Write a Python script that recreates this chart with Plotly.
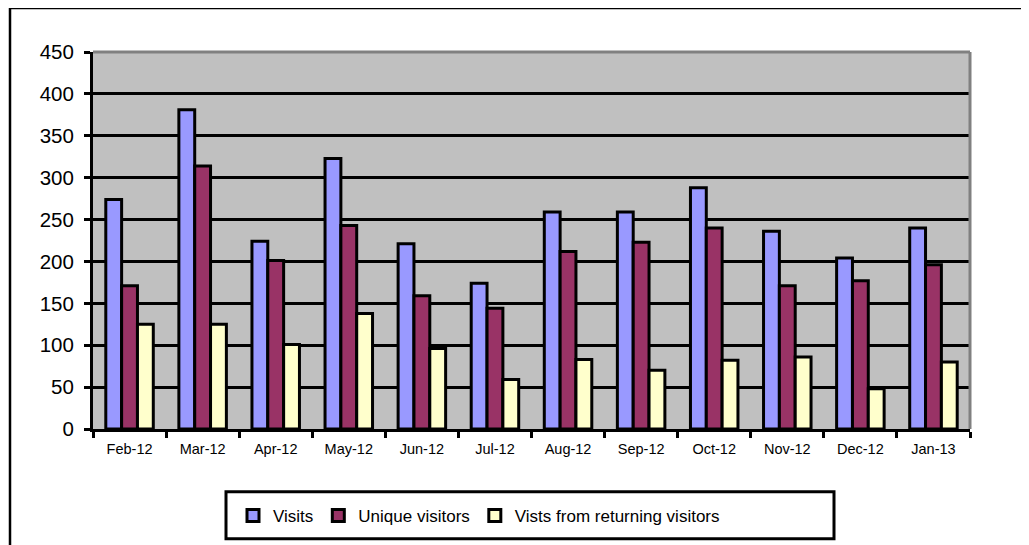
import plotly.graph_objects as go

months = ["Feb-12", "Mar-12", "Apr-12", "May-12", "Jun-12", "Jul-12",
          "Aug-12", "Sep-12", "Oct-12", "Nov-12", "Dec-12", "Jan-13"]
visits = [274, 381, 224, 323, 221, 174, 259, 259, 288, 236, 204, 240]
unique_visitors = [171, 314, 201, 243, 159, 144, 212, 223, 240, 171, 177, 196]
returning_visits = [125, 125, 101, 138, 96, 59, 83, 70, 82, 86, 48, 80]

series_names = ["Visits", "Unique visitors", "Vists from returning visitors"]
colors = ["#9999FF", "#993366", "#FFFFCC"]

# the page body has an 8px margin, so the figure is placed at (8, 8)
OFF = 8
W, H = 1029 - OFF, 545 - OFF
# plot area in window pixels
L, R, T, B = 93, 970, 52, 430


def px(x):
    return (x - L) / (R - L)


def py(y):
    return (B - y) / (B - T)


fig = go.Figure()
for name, vals, col in zip(series_names, [visits, unique_visitors, returning_visits], colors):
    fig.add_trace(go.Bar(
        x=months, y=vals, name=name,
        marker=dict(color=col, line=dict(color="black", width=3)),
    ))

font_family = "Liberation Sans, Arial, sans-serif"

fig.update_layout(
    width=W, height=H,
    margin=dict(l=L - OFF, r=1029 - R, t=T - OFF, b=545 - B, pad=0),
    paper_bgcolor="white",
    plot_bgcolor="#C0C0C0",
    barmode="group",
    bargap=0.35,
    bargroupgap=0,
    font=dict(family=font_family, color="black"),
    showlegend=True,
    legend=dict(
        orientation="h",
        x=px(479), y=py(516),
        xanchor="center", yanchor="middle",
        font=dict(size=17, family=font_family, color="black"),
        bgcolor="rgba(0,0,0,0)",
        borderwidth=0,
        itemwidth=30,
        traceorder="normal",
    ),
    xaxis=dict(
        type="category",
        showgrid=False,
        showline=True, linecolor="black", linewidth=3,
        ticks="outside", tickson="boundaries", ticklen=6, tickwidth=3, tickcolor="black",
        tickfont=dict(size=14.5, family=font_family, color="black"),
        ticklabelstandoff=5,
        fixedrange=True,
    ),
    yaxis=dict(
        range=[0, 450], dtick=50, tick0=0,
        showgrid=True, gridcolor="black", gridwidth=2.5,
        zeroline=False,
        showline=True, linecolor="black", linewidth=3,
        ticks="outside", ticklen=6, tickwidth=3, tickcolor="black",
        tickfont=dict(size=20.5, family=font_family, color="black"),
        ticklabelstandoff=6,
        fixedrange=True,
    ),
    shapes=[
        # outer chart frame
        dict(type="rect", xref="paper", yref="paper",
             x0=px(10), x1=px(1024), y0=py(560), y1=py(8),
             line=dict(color="black", width=2.5), layer="below"),
        # plot-area top and right border (grey)
        dict(type="line", xref="paper", yref="paper",
             x0=0, x1=1, y0=1, y1=1,
             line=dict(color="#808080", width=3), layer="above"),
        dict(type="line", xref="paper", yref="paper",
             x0=1, x1=1, y0=0, y1=1,
             line=dict(color="#808080", width=3), layer="above"),
        # legend box
        dict(type="rect", xref="paper", yref="paper",
             x0=px(226), x1=px(834), y0=py(540), y1=py(493),
             line=dict(color="black", width=3), layer="below"),
    ],
)

fig.write_html("out.html")
